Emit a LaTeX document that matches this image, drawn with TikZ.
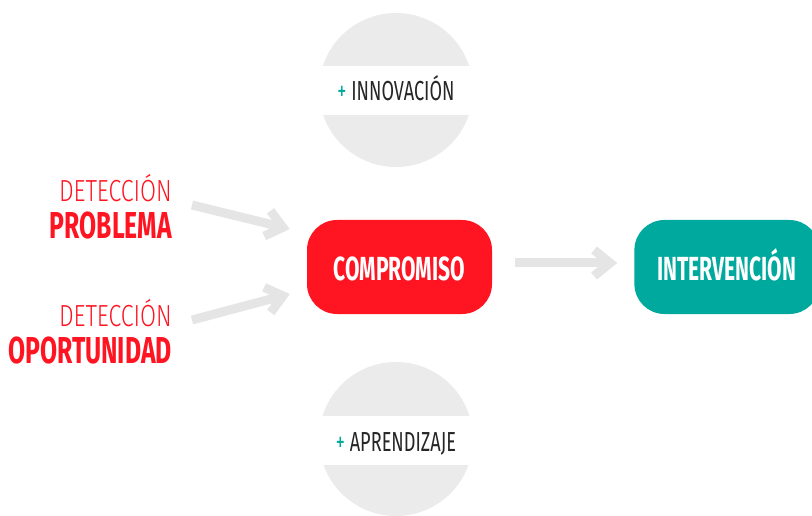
\documentclass[tikz,border=0pt]{standalone}
\usepackage{fontspec}
\setmainfont{Fira Sans}
\newfontfamily\fina[FakeStretch=0.76]{Fira Sans Light}
\newfontfamily\media[FakeStretch=0.66]{Fira Sans}
\newfontfamily\fuerte[FakeStretch=0.63]{Fira Sans}
\newfontfamily\gruesa[FakeStretch=0.66]{Fira Sans}
\usetikzlibrary{arrows.meta,positioning}
\definecolor{rojo}{HTML}{FF1421}
\definecolor{verde}{HTML}{00A99D}
\definecolor{gris}{HTML}{EBEBEB}
\definecolor{grisf}{HTML}{E5E5E5}
\definecolor{texto}{HTML}{262626}

\begin{document}
\begin{tikzpicture}[x=1pt,y=1pt,
        caja/.style={rounded corners=30pt, minimum width=185pt, minimum height=94pt,
            inner sep=0pt, text height=28pt, text depth=0pt, text=white,
            font=\fuerte\bfseries\fontsize{33.4}{36}\selectfont},
        flecha/.style={grisf, line width=9pt, -{Straight Barb[length=16pt,width=26pt]}},
        lado/.style={anchor=base east, text=rojo, inner sep=0pt},
        etiqueta/.style={anchor=base, text=texto, inner sep=0pt,
            font=\media\fontsize{27.5}{30}\selectfont}
    ]
    \useasboundingbox (0,0) rectangle (812,515);
    % circulos con banda blanca
    \fill[gris] (396,425) circle (77);
    \fill[gris] (396,76) circle (77);
    \fill[white] (300,400) rectangle (500,449);
    \fill[white] (300,50) rectangle (500,99);
    \node[etiqueta] (innov) at (396,414) {\textcolor{verde}{+} INNOVACIÓN};
    \node[etiqueta] (apren) at (396,64) {\textcolor{verde}{+} APRENDIZAJE};

    % cajas
    \node[caja, fill=rojo] (comp) at (399.5,248) {COMPROMISO};
    \node[caja, fill=verde, right=142pt of comp] (inter) {INTERVENCIÓN};

    % textos de la izquierda
    \node[lado, font=\fina\fontsize{30.5}{32}\selectfont] (det1) at (172,313) {DETECCIÓN};
    \node[lado, font=\gruesa\bfseries\fontsize{37.5}{40}\selectfont] (prob) at (172,276) {PROBLEMA};
    \node[lado, font=\fina\fontsize{30.5}{32}\selectfont] (det2) at (172,189) {DETECCIÓN};
    \node[lado, font=\gruesa\bfseries\fontsize{37.5}{40}\selectfont] (opor) at (172,152) {OPORTUNIDAD};

    % flechas
    \draw[flecha] ([shift={(20,-3)}]det1.base east) -- ([shift={(-17,38)}]comp.west);
    \draw[flecha] ([shift={(20,6)}]det2.base east) -- ([shift={(-17,-27)}]comp.west);
    \draw[flecha] ([shift={(23,4)}]comp.east) -- ([shift={(-17,4)}]inter.west);
\end{tikzpicture}
\end{document}
